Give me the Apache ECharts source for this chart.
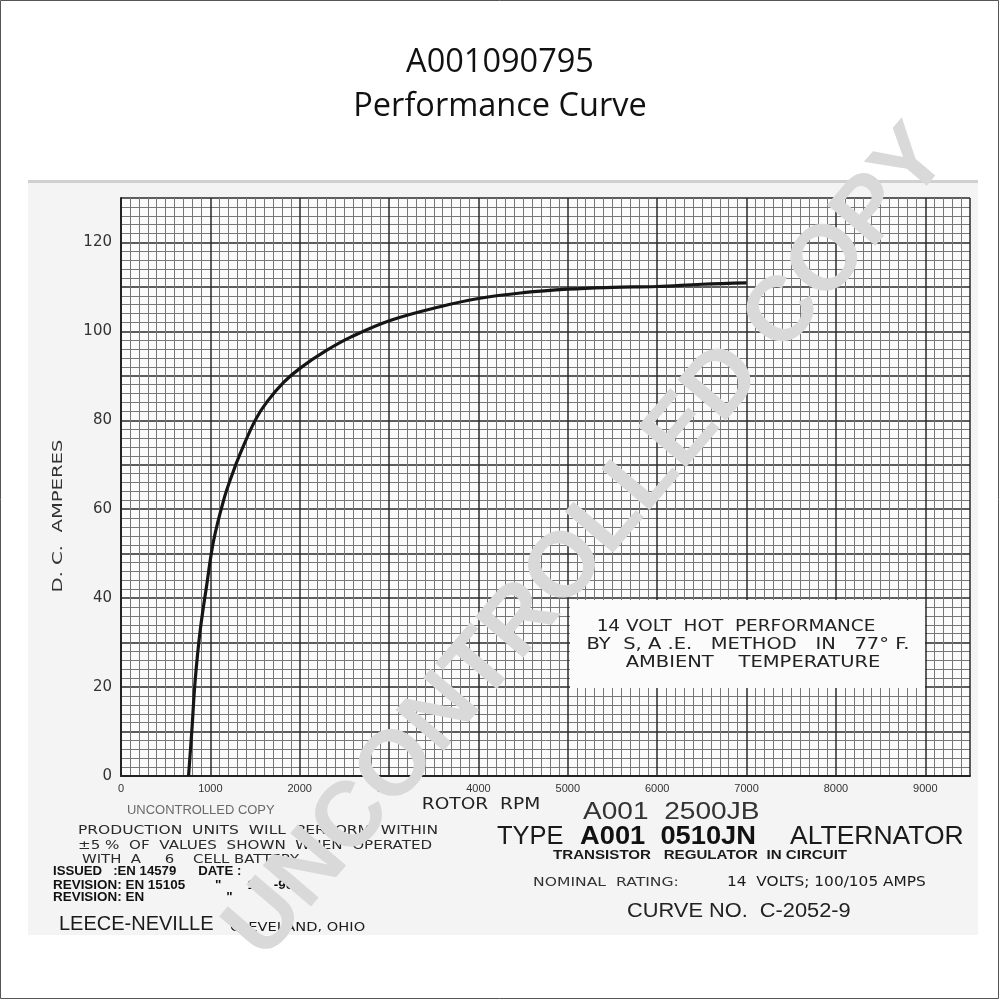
<!DOCTYPE html>
<html>
<head>
<meta charset="utf-8">
<script src="https://cdn.jsdelivr.net/npm/echarts@6/dist/echarts.min.js"></script>
<style>
html,body{margin:0;padding:0;background:#fff;}
#c{width:1000px;height:1000px;}
</style>
</head>
<body>
<div id="c"></div>
<script>
// ---- data ----
var titleLines = ['A001090795', 'Performance Curve'];
var rpm  = [756, 793, 830, 886, 961, 1036, 1148, 1240, 1336, 1504, 1635, 1822, 2009, 2290, 2570, 3019, 3580, 4000, 4500, 5000, 5500, 6000, 6500, 7000];
var amps = [0, 10.3, 21.5, 32.7, 43.2, 52.9, 62.0, 67.6, 72.6, 80.1, 84.2, 88.6, 91.8, 95.6, 98.7, 102.5, 105.6, 107.4, 108.7, 109.5, 109.9, 110.1, 110.6, 110.9];
var xTicks = [0, 1000, 2000, 3000, 4000, 5000, 6000, 7000, 8000, 9000];
var yTicks = [0, 20, 40, 60, 80, 100, 120];
var xName = 'ROTOR  RPM';
var yName = 'D. C.  AMPERES';
var noteLines = ['14 VOLT  HOT  PERFORMANCE', 'BY  S, A .E.   METHOD   IN   77° F.', 'AMBIENT    TEMPERATURE'];

var chart = echarts.init(document.getElementById('c'), null, {renderer: 'canvas'});
var data = rpm.map(function (r, i) { return [r, amps[i]]; });
var typeFont = '"DejaVu Sans", sans-serif';
var sansFont = '"Liberation Sans", sans-serif';
var narrowFont = '"Liberation Sans Narrow", "Liberation Sans", sans-serif';

function txt(x, y, s, size, opt) {
  opt = opt || {};
  return {
    type: 'text', x: x, y: y, z: opt.z || 50, scaleX: opt.sx || 1,
    rotation: opt.rot || 0,
    style: {
      text: s, fill: opt.color || '#1e1e1e',
      font: (opt.weight || 'normal') + ' ' + size + 'px ' + (opt.family || typeFont),
      textAlign: opt.align || 'left', textVerticalAlign: 'middle'
    }
  };
}

var option = {
  backgroundColor: '#ffffff',
  animation: false,
  grid: {left: 121, right: 30, top: 198, bottom: 224, show: false},
  xAxis: {
    type: 'value', min: 0, max: 9500, interval: 1000,
    axisLine: {show: true, lineStyle: {color: '#222', width: 2}},
    axisTick: {show: false},
    axisLabel: {
      color: '#333', fontSize: 11, fontFamily: 'Liberation Sans', margin: 7,
      showMaxLabel: false,
      formatter: function (v) { return xTicks.indexOf(v) >= 0 ? String(v) : ''; }
    },
    splitLine: {show: true, lineStyle: {color: '#2a2a2a', width: 1.5}},
    minorTick: {show: false, splitNumber: 10},
    minorSplitLine: {show: true, lineStyle: {color: '#777777', width: 1}}
  },
  yAxis: {
    type: 'value', min: 0, max: 130, interval: 10,
    axisLine: {show: true, lineStyle: {color: '#222', width: 2}},
    axisTick: {show: false},
    axisLabel: {
      color: '#333', fontSize: 15, fontFamily: 'DejaVu Sans', margin: 9,
      showMaxLabel: false,
      formatter: function (v) { return yTicks.indexOf(v) >= 0 ? String(v) : ''; }
    },
    splitLine: {show: true, lineStyle: {color: '#2a2a2a', width: 1.5}},
    minorTick: {show: false, splitNumber: 5},
    minorSplitLine: {show: true, lineStyle: {color: '#777777', width: 1}}
  },
  series: [{
    type: 'line', data: data, smooth: 0.4, showSymbol: false, z: 5,
    lineStyle: {color: '#151515', width: 3.2}
  }],
  graphic: [
    // outer frame
    {type: 'rect', shape: {x: 0.5, y: 0.5, width: 998, height: 998}, z: -100,
     style: {fill: '#ffffff', stroke: '#555', lineWidth: 1}},
    // scanned paper
    {type: 'rect', shape: {x: 28, y: 180, width: 950, height: 755}, z: -90,
     style: {fill: '#f4f4f4', stroke: null}},
    {type: 'rect', shape: {x: 28, y: 180, width: 950, height: 3}, z: -89,
     style: {fill: '#d0d0d0'}},
    {type: 'rect', shape: {x: 121, y: 198, width: 849, height: 578}, z: -80,
     style: {fill: '#fbfbfb'}},
    // title
    txt(500, 63, titleLines[0], 32.5, {align: 'center', family: '"Open Sans", sans-serif', color: '#111'}),
    txt(500, 107, titleLines[1], 32.5, {align: 'center', family: '"Open Sans", sans-serif', color: '#111'}),
    // axis names
    txt(58, 516, yName, 14, {align: 'center', color: '#333', rot: Math.PI / 2, sx: 1.4}),
    txt(481, 805, xName, 15, {align: 'center', color: '#222', sx: 1.24}),
    // note box
    {type: 'rect', shape: {x: 570, y: 600, width: 355, height: 88}, z: 40,
     style: {fill: '#fbfbfb', stroke: null}},
    txt(736, 627, noteLines[0], 15, {align: 'center', color: '#222', sx: 1.23}),
    txt(748, 645, noteLines[1], 15, {align: 'center', color: '#222', sx: 1.3}),
    txt(753, 663, noteLines[2], 15, {align: 'center', color: '#222', sx: 1.3}),
    // lower left block
    txt(127, 811, 'UNCONTROLLED COPY', 12, {color: '#6a6a6a', family: narrowFont, sx: 1.08}),
    txt(78, 831, 'PRODUCTION  UNITS  WILL  PERFORM  WITHIN', 12.5, {color: '#2a2a2a', sx: 1.24}),
    txt(78, 846, '±5 %  OF  VALUES  SHOWN  WHEN  OPERATED', 12.5, {color: '#2a2a2a', sx: 1.21}),
    txt(82, 860, 'WITH  A     6    CELL BATTERY', 12.5, {color: '#2a2a2a', sx: 1.19}),
    txt(53, 872, 'ISSUED   :EN 14579      DATE :', 12, {color: '#111', weight: 'bold', family: sansFont, sx: 1.1}),
    txt(53, 886, 'REVISION: EN 15105        "       11-  -90', 12, {color: '#111', weight: 'bold', family: sansFont, sx: 1.12}),
    txt(53, 898, 'REVISION: EN                      "', 12, {color: '#111', weight: 'bold', family: sansFont, sx: 1.12}),
    txt(59, 924, 'LEECE-NEVILLE', 20, {color: '#1a1a1a', family: sansFont}),
    txt(230, 928, 'CLEVELAND, OHIO', 12.5, {color: '#1a1a1a', sx: 1.17}),
    // lower right block
    txt(583, 812, 'A001  2500JB', 24, {color: '#333', family: narrowFont, sx: 1.17}),
    txt(497, 837, 'TYPE', 25.5, {color: '#1a1a1a', family: sansFont}),
    txt(580, 837, 'A001  0510JN', 25.5, {color: '#111', weight: 'bold', family: sansFont, sx: 1.07}),
    txt(790, 837, 'ALTERNATOR', 26.5, {color: '#1a1a1a', family: sansFont}),
    txt(553, 856, 'TRANSISTOR   REGULATOR  IN CIRCUIT', 12.5, {color: '#1a1a1a', weight: 'bold', family: sansFont, sx: 1.21}),
    txt(533, 883, 'NOMINAL  RATING:', 12, {color: '#333', sx: 1.3}),
    txt(727, 882, '14  VOLTS; 100/105 AMPS', 14.5, {color: '#1a1a1a', sx: 1.06}),
    txt(627, 911, 'CURVE NO.  C-2052-9', 20, {color: '#222', family: narrowFont, sx: 1.09}),
    // watermark
    {type: 'text', x: 588, y: 543, rotation: 49.5 * Math.PI / 180, z: 200,
     style: {text: 'UNCONTROLLED COPY', fill: '#d9d9d9', font: 'bold 92px "Liberation Sans", sans-serif',
             textAlign: 'center', textVerticalAlign: 'middle'}}
  ]
};
chart.setOption(option);
</script>
</body>
</html>
